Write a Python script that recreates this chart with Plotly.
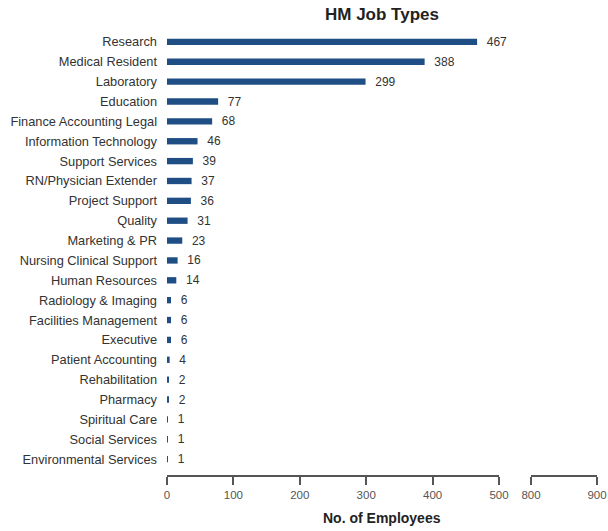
import plotly.graph_objects as go

categories = ["Research", "Medical Resident", "Laboratory", "Education",
              "Finance Accounting Legal", "Information Technology", "Support Services",
              "RN/Physician Extender", "Project Support", "Quality", "Marketing & PR",
              "Nursing Clinical Support", "Human Resources", "Radiology & Imaging",
              "Facilities Management", "Executive", "Patient Accounting", "Rehabilitation",
              "Pharmacy", "Spiritual Care", "Social Services", "Environmental Services"]
employees = [467, 388, 299, 77, 68, 46, 39, 37, 36, 31, 23, 16, 14, 6, 6, 6, 4, 2, 2, 1, 1, 1]

x_ticks_left = [0, 100, 200, 300, 400, 500]
x_ticks_right = [800, 900]

W, H = 608, 531
L, R, T, B = 167, 11, 30, 56
font = "Liberation Sans, Arial, sans-serif"
axis_col = "#555555"

fig = go.Figure()
fig.add_trace(go.Bar(
    x=employees, y=categories, orientation="h",
    marker=dict(color="#1f4e85", line=dict(width=0)),
    width=0.32,
    texttemplate="\u00a0\u00a0%{x}", textposition="outside", constraintext="none",
    textfont=dict(family=font, size=12, color="#333333"),
    cliponaxis=False, xaxis="x", yaxis="y", showlegend=False,
))
# placeholder trace so that the second (broken) axis segment is drawn
fig.add_trace(go.Scatter(
    x=[x_ticks_right[0]], y=[categories[0]], mode="markers",
    marker=dict(opacity=0), xaxis="x2", yaxis="y",
    showlegend=False, hoverinfo="skip",
))

pw = W - L - R
ph = H - T - B
common_x = dict(showline=True, linecolor=axis_col, linewidth=1.5, ticks="outside",
                ticklen=8, tickwidth=1.5, tickcolor=axis_col, showgrid=False,
                zeroline=False, tickfont=dict(family=font, size=11.5, color="#555555"),
                anchor="y", fixedrange=True, automargin=False)
fig.update_layout(
    width=W, height=H,
    margin=dict(l=L, r=R, t=T, b=B),
    paper_bgcolor="white", plot_bgcolor="white",
    xaxis=dict(domain=[0, 332 / pw], range=[0, 500], tickvals=x_ticks_left, **common_x),
    xaxis2=dict(domain=[364 / pw, 1.0], range=[800, 900], tickvals=x_ticks_right, **common_x),
    yaxis=dict(categoryorder="array", categoryarray=categories,
               range=[21.8, -0.6], showline=False, ticks="", showgrid=False,
               zeroline=False, ticklabelstandoff=9, automargin=False,
               tickfont=dict(family=font, size=12.8, color="#333333"), fixedrange=True),
    annotations=[
        dict(text="<b>HM Job Types</b>", xref="paper", yref="paper",
             x=0.5, y=1 + 15 / ph, xanchor="center", yanchor="middle",
             showarrow=False, font=dict(family=font, size=17, color="#222222")),
        dict(text="<b>No. of Employees</b>", xref="paper", yref="paper",
             x=0.5, y=-(518 - (H - B)) / ph, xanchor="center", yanchor="middle",
             showarrow=False, font=dict(family=font, size=14, color="#222222")),
    ],
)
fig.write_html("out.html", config={"displayModeBar": False},
               post_script="document.body.style.margin='0';document.body.style.overflow='hidden';")
